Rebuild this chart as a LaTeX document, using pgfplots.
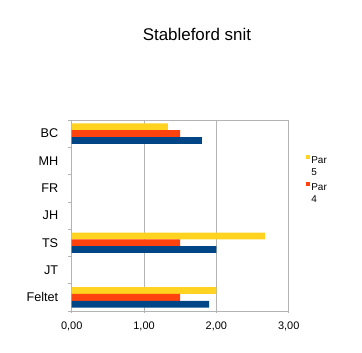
\documentclass[border=0pt]{standalone}
\usepackage{pgfplots}
\pgfplotsset{compat=1.18}
\usepackage{fontspec}
\setmainfont{Liberation Sans}
\definecolor{parfive}{HTML}{FFD320}
\definecolor{parfour}{HTML}{FF420E}
\definecolor{parthree}{HTML}{004586}
\definecolor{gridc}{HTML}{B3B3B3}
\begin{document}
\begin{tikzpicture}
\useasboundingbox (0,0) rectangle (362bp,353bp);
\begin{axis}[
  at={(71.7bp,42bp)}, anchor=south west,
  scale only axis, width=217bp, height=191bp,
  xbar, bar width=6.8bp,
  xmin=0, xmax=3, ymin=-0.5, ymax=6.5,
  y dir=reverse,
  ytick={0,...,6},
  yticklabels={BC,MH,FR,JH,TS,JT,Feltet},
  minor ytick={-0.5,0.5,...,6.5},
  xtick={0,1,2,3},
  xmajorgrids, grid style={draw=gridc, line width=0.6pt},
  axis line style={draw=gridc, line width=0.6pt},
  major y tick style={draw=none},
  minor y tick style={draw=gridc, line width=0.6pt},
  minor tick length=3.5bp,
  major x tick style={draw=gridc, line width=0.6pt},
  major tick length=2bp,
  tick align=outside, xtick pos=bottom, ytick pos=left,
  /pgf/number format/assume math mode=true,
  xticklabel={\pgfmathprintnumber[fixed,zerofill,precision=2,use comma]{\tick}},
  xticklabel style={font=\fontsize{11}{13}\selectfont, yshift=-5bp},
  yticklabel style={font=\fontsize{12.7}{15}\selectfont, xshift=-8bp},
  title={Stableford snit},
  title style={at={(0.577,1)}, anchor=base, yshift=74bp, font=\fontsize{17}{20}\selectfont},
  legend style={draw=none, at={(1.078,0.825)}, anchor=north west, font=\fontsize{10}{12}\selectfont, row sep=14bp, inner sep=0pt, nodes={inner sep=1.5bp}},
  legend cell align=left,
  legend image code/.code={\fill[#1,draw=none] (0bp,1bp) rectangle (4bp,5bp);},
]
\addplot[fill=parfive, draw=none, bar shift=6.8bp] coordinates {(1.33,0) (2.67,4) (2.0,6)};
\addplot[fill=parfour, draw=none, bar shift=0bp] coordinates {(1.5,0) (1.5,4) (1.5,6)};
\addplot[fill=parthree, draw=none, bar shift=-6.8bp, forget plot] coordinates {(1.8,0) (2.0,4) (1.9,6)};
\legend{{\begin{tabular}[t]{@{}l@{}}Par\\5\end{tabular}},{\begin{tabular}[t]{@{}l@{}}Par\\4\end{tabular}}}
\end{axis}
\end{tikzpicture}
\end{document}
